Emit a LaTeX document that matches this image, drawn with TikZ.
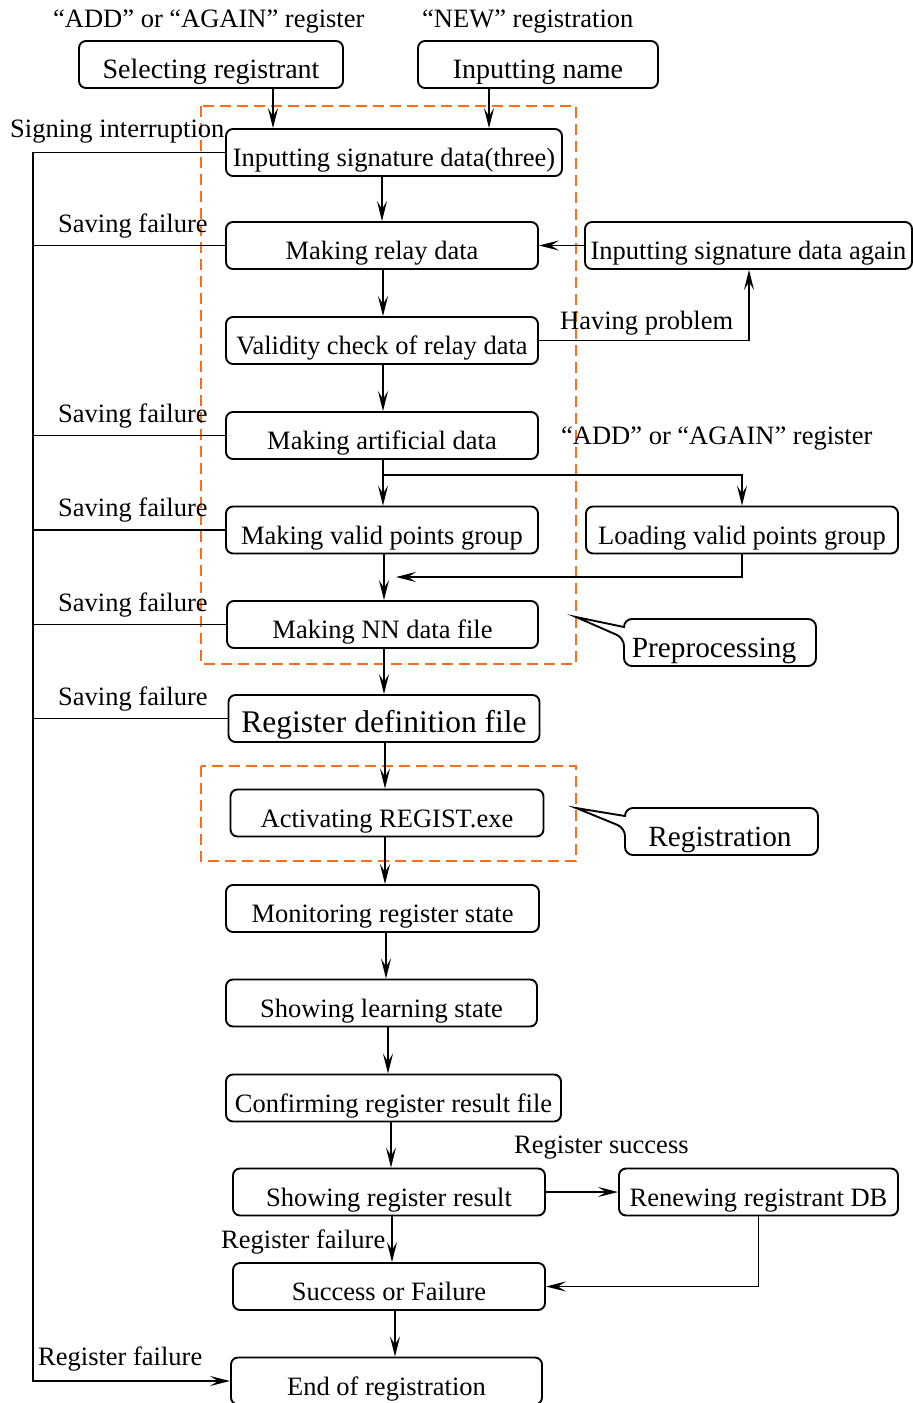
\documentclass[tikz,border=0pt]{standalone}
\usepackage{fontspec}
\newfontfamily\tms{Liberation Serif}
\usetikzlibrary{arrows.meta}
\definecolor{dashor}{RGB}{255,110,20}
\begin{document}
\begin{tikzpicture}[x=1pt,y=-1pt,
  every node/.style={font=\tms\fontsize{26.5}{30}\selectfont},
  box/.style={draw, line width=1.9pt, rounded corners=7pt, minimum height=47pt, inner sep=0pt, text height=28pt, text depth=0pt},
  lbl/.style={anchor=base west, inner sep=0pt},
  arr/.style={line width=1.8pt, -{Stealth[length=20pt,width=10pt,inset=8pt]}},
  conn/.style={line width=1.8pt},
  dashbox/.style={draw=dashor, line width=2.4pt, dash pattern=on 11pt off 6pt},
  topfont/.style={font=\tms\fontsize{28}{32}\selectfont},
  bigfont/.style={font=\tms\fontsize{29.3}{33}\selectfont},
  hugefont/.style={font=\tms\fontsize{31.5}{35}\selectfont},
  callout/.style={draw, line width=1.9pt}
]
\useasboundingbox (0,0) rectangle (913,1403);

% dashed groups
\draw[dashbox] (201,106) rectangle (576,664);
\draw[dashbox] (201,766) rectangle (576,861);

% boxes
\node[box, topfont, minimum width=264pt] (sel) at (211,64.5) {Selecting registrant};
\node[box, topfont, minimum width=240pt] (name) at (538,64.5) {Inputting name};
\node[box, minimum width=336pt] (sig) at (394,152.5) {Inputting signature data(three)};
\node[box, minimum width=312pt] (relay) at (382,245.5) {Making relay data};
\node[box, minimum width=327pt] (again) at (748.5,245.5) {Inputting signature data again};
\node[box, minimum width=312pt] (val) at (382,340.5) {Validity check of relay data};
\node[box, minimum width=312pt] (art) at (382,435.5) {Making artificial data};
\node[box, minimum width=312pt] (vg) at (382,530) {Making valid points group};
\node[box, minimum width=312pt] (load) at (742,530) {Loading valid points group};
\node[box, minimum width=311pt] (nn) at (382.5,624.5) {Making NN data file};
\node[box, hugefont, minimum width=311pt] (reg) at (384,718.5) {Register definition file};
\node[box, minimum width=313pt] (act) at (387,813) {Activating REGIST.exe};
\node[box, minimum width=313pt] (mon) at (382.5,908.5) {Monitoring register state};
\node[box, minimum width=311pt] (learn) at (381.5,1003) {Showing learning state};
\node[box, minimum width=335pt] (conf) at (393.5,1098) {Confirming register result file};
\node[box, minimum width=312pt] (res) at (389,1192) {Showing register result};
\node[box, minimum width=279pt] (renew) at (758.5,1192) {Renewing registrant DB};
\node[box, minimum width=312pt] (succ) at (389,1286.5) {Success or Failure};
\node[box, minimum width=311pt] (end) at (386.5,1381) {End of registration};

% callouts
\draw[callout, rounded corners=8pt] (624,627) -- (624,619) -- (816,619) -- (816,666) -- (624,666) -- (624,638) [sharp corners] -- (576,617) -- cycle;
\node[bigfont, anchor=base] (pre) at (714,657) {Preprocessing};
\draw[callout, rounded corners=8pt] (625,816) -- (625,808) -- (818,808) -- (818,855) -- (625,855) -- (625,828) [sharp corners] -- (576,808) -- cycle;
\node[bigfont, anchor=base] (regi) at (720,846) {Registration};

% labels
\node[lbl] (t1) at (53,27) {“ADD” or “AGAIN” register};
\node[lbl] (t2) at (422,27) {“NEW” registration};
\node[lbl] (t3) at (10,137) {Signing interruption};
\node[lbl] (s1) at (58,232) {Saving failure};
\node[lbl] (s2) at (58,422) {Saving failure};
\node[lbl] (s3) at (58,516) {Saving failure};
\node[lbl] (s4) at (58,611) {Saving failure};
\node[lbl] (s5) at (58,705) {Saving failure};
\node[lbl] (hp) at (560,329) {Having problem};
\node[lbl] (t4) at (561,444) {“ADD” or “AGAIN” register};
\node[lbl] (rs) at (514,1153) {Register success};
\node[lbl] (rf1) at (221,1248) {Register failure};
\node[lbl] (rf2) at (38,1365) {Register failure};

% column coordinates
\coordinate (xa) at (273,0);
\coordinate (xb) at (489,0);
\coordinate (xc) at (749,0);
\coordinate (L) at (33,0);
\coordinate (br) at (383,475);
\coordinate (mg) at (396,577);

% connectors
\draw[arr] (sel.south -| xa) -- (sig.north -| xa);
\draw[arr] (name.south -| xb) -- (sig.north -| xb);
\draw[arr] (sig.south -| 382,0) -- (relay.north -| 382,0);
\draw[arr] (relay.south -| 383,0) -- (val.north -| 383,0);
\draw[arr] (val.south -| 383,0) -- (art.north -| 383,0);
\draw[arr] (val.east) -| (again.south -| xc);
\draw[arr] (again.west) -- (relay.east);
\draw[arr] (art.south -| 383,0) -- (vg.north -| 383,0);
\draw[arr] (br) -| (load.north);
\draw[arr] (vg.south -| 384,0) -- (nn.north -| 384,0);
\draw[arr] (load.south) |- (mg);
\draw[arr] (nn.south -| 384,0) -- (reg.north -| 384,0);
\draw[arr] (reg.south -| 385,0) -- (act.north -| 385,0);
\draw[arr] (act.south -| 385,0) -- (mon.north -| 385,0);
\draw[arr] (mon.south -| 386,0) -- (learn.north -| 386,0);
\draw[arr] (learn.south -| 388,0) -- (conf.north -| 388,0);
\draw[arr] (conf.south -| 391,0) -- (res.north -| 391,0);
\draw[arr] (res.east) -- (renew.west);
\draw[arr] (res.south -| 392,0) -- (succ.north -| 392,0);
\draw[arr] (renew.south) |- (succ.east);
\draw[arr] (succ.south -| 395,0) -- (end.north -| 395,0);

% left feedback line
\draw[arr] (sig.west) -- (sig.west -| L) -- (end.west -| L) -- (end.west);
\draw[conn] (relay.west) -- (relay.west -| L);
\draw[conn] (art.west) -- (art.west -| L);
\draw[conn] (vg.west) -- (vg.west -| L);
\draw[conn] (nn.west) -- (nn.west -| L);
\draw[conn] (reg.west) -- (reg.west -| L);
\end{tikzpicture}
\end{document}
